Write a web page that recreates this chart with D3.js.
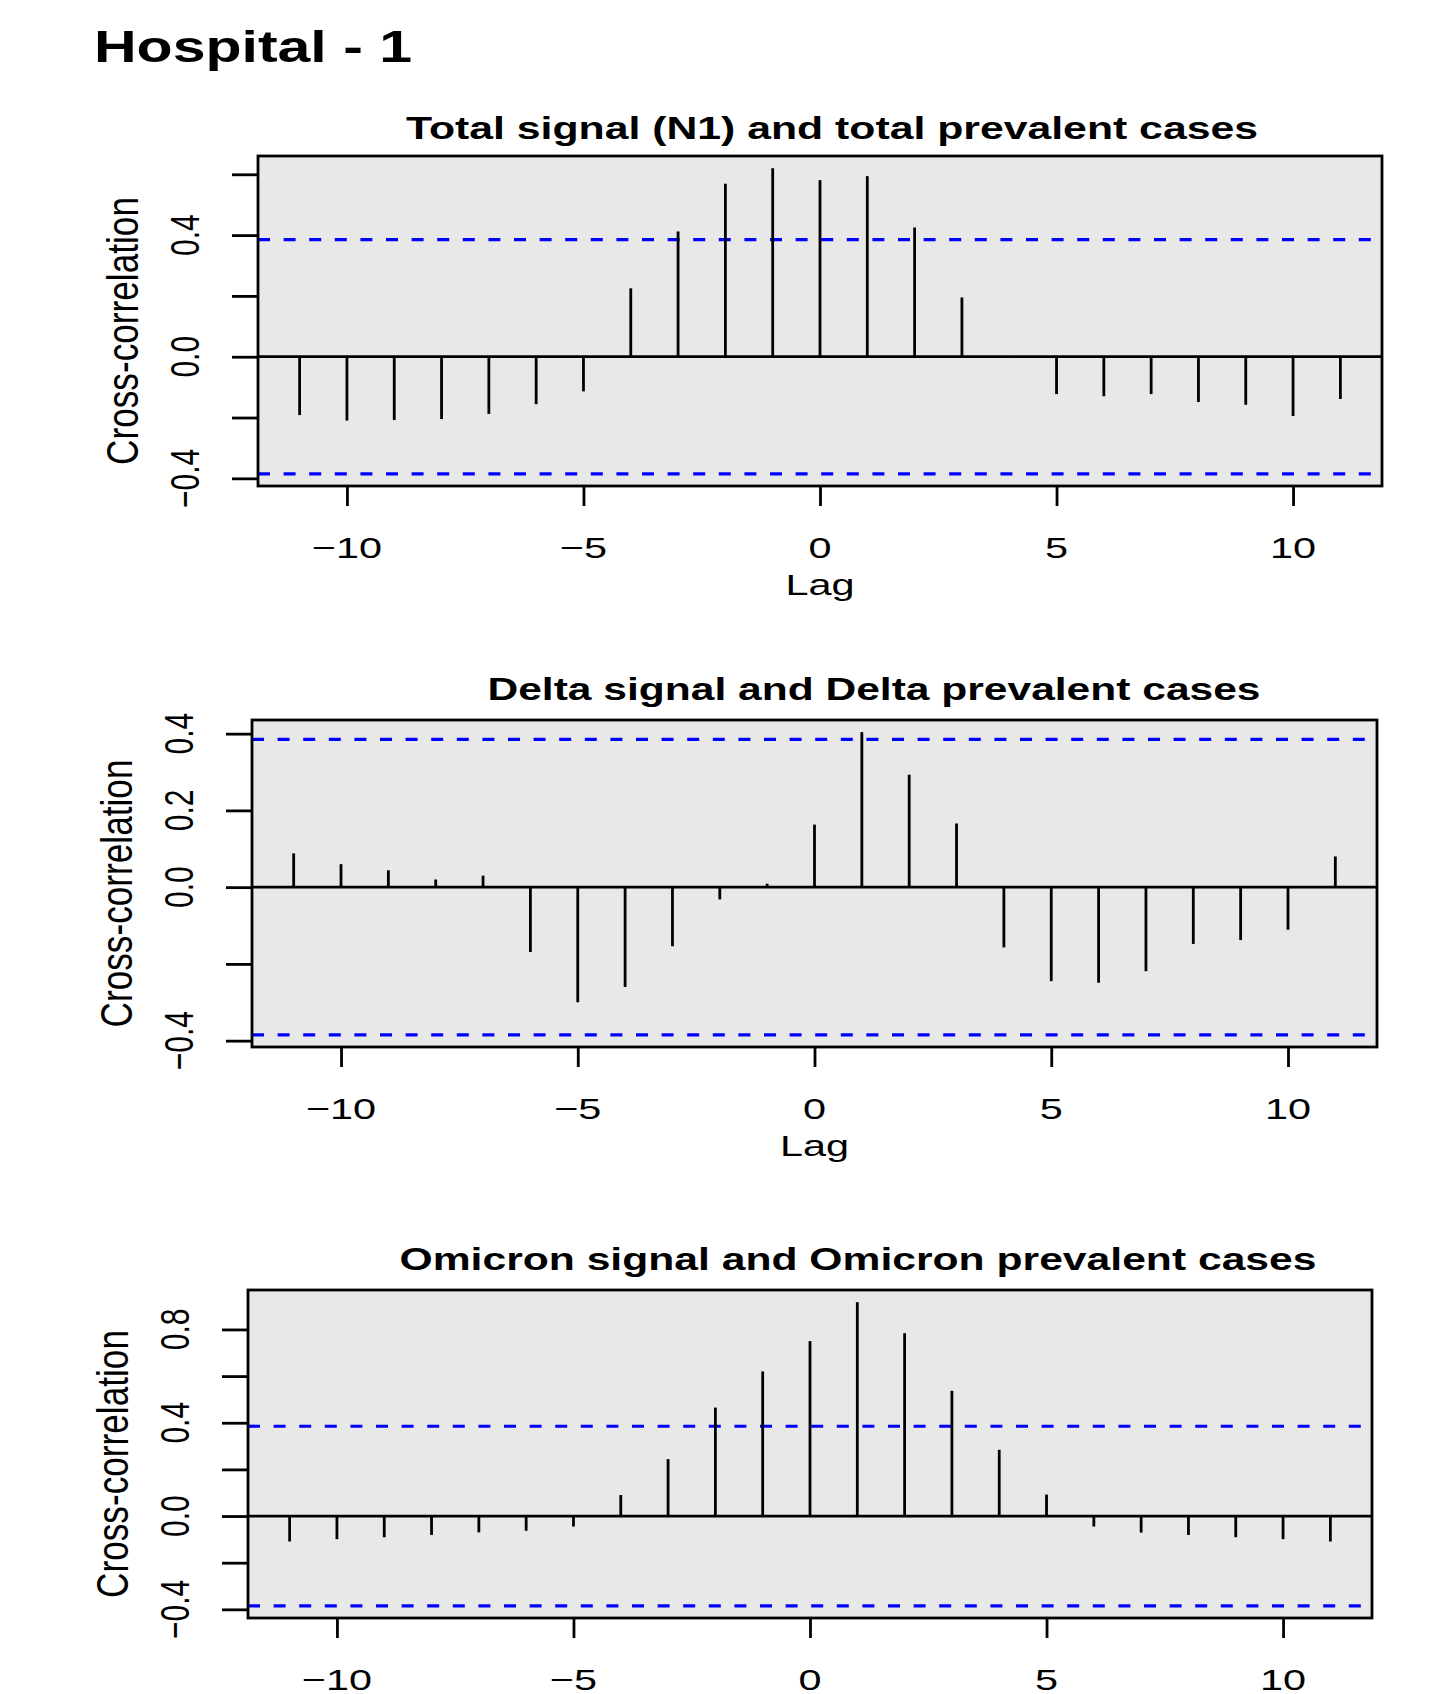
<!DOCTYPE html>
<html>
<head>
<meta charset="utf-8">
<script src="https://cdn.jsdelivr.net/npm/d3@7"></script>
<style>
  html, body { margin: 0; padding: 0; background: #fff; }
  svg { display: block; }
  text { font-family: "Liberation Sans", Arial, Helvetica, sans-serif; fill: #000; }
</style>
</head>
<body>
<svg id="chart"></svg>
<script>
// lags shown on every panel
let lags = [-11, -10, -9, -8, -7, -6, -5, -4, -3, -2, -1, 0, 1, 2, 3, 4, 5, 6, 7, 8, 9, 10, 11];

// cross-correlation values
let totalCcf = [-0.192, -0.210, -0.208, -0.205, -0.188, -0.156, -0.114, 0.225, 0.412, 0.569, 0.620,
    0.581, 0.594, 0.425, 0.195, 0.003, -0.123, -0.130, -0.123, -0.149, -0.158, -0.195, -0.139];
let deltaCcf = [0.088, 0.060, 0.044, 0.020, 0.030, -0.169, -0.300, -0.260, -0.154, -0.032, 0.009,
    0.163, 0.404, 0.293, 0.166, -0.157, -0.245, -0.249, -0.219, -0.148, -0.138, -0.111, 0.080];
let omicronCcf = [-0.109, -0.099, -0.091, -0.081, -0.070, -0.063, -0.045, 0.090, 0.244, 0.465, 0.620,
    0.750, 0.917, 0.784, 0.537, 0.284, 0.092, -0.045, -0.071, -0.081, -0.091, -0.099, -0.109];

// 95% band (2/sqrt(n))
let ciLevel = 0.385;

let mainTitle = "Hospital - 1";
let panelTitles = [
    "Total signal (N1) and total prevalent cases",
    "Delta signal and Delta prevalent cases",
    "Omicron signal and Omicron prevalent cases"
];

let xTicks = [-10, -5, 0, 5, 10];
let xTickLabels = ["\u221210", "\u22125", "0", "5", "10"];

let yTicks1 = [-0.4, -0.2, 0, 0.2, 0.4, 0.6];
let yTickLabels1 = ["\u22120.4", "", "0.0", "", "0.4", ""];
let yTicks2 = [-0.4, -0.2, 0, 0.2, 0.4];
let yTickLabels2 = ["\u22120.4", "", "0.0", "0.2", "0.4"];
let yTicks3 = [-0.4, -0.2, 0, 0.2, 0.4, 0.6, 0.8];
let yTickLabels3 = ["\u22120.4", "", "0.0", "", "0.4", "", "0.8"];

let width = 1443,
    height = 1694;

let sx = 1.38;   // the picture is stretched sideways
let lw = 2.8;

let svg = d3.select("#chart")
    .attr("width", width)
    .attr("height", height);

svg.append("text")
    .attr("x", 94)
    .attr("y", 62)
    .attr("font-size", 45)
    .attr("font-weight", "bold")
    .attr("textLength", 318)
    .attr("lengthAdjust", "spacingAndGlyphs")
    .text(mainTitle);

let panels = [
    {title: panelTitles[0], values: totalCcf, yTicks: yTicks1, yLabels: yTickLabels1,
     left: 258, right: 1382, top: 156, bottom: 486, tx: 832, ty: 139, tw: 852, lag: true},
    {title: panelTitles[1], values: deltaCcf, yTicks: yTicks2, yLabels: yTickLabels2,
     left: 252, right: 1377, top: 720, bottom: 1047, tx: 874, ty: 700, tw: 773, lag: true},
    {title: panelTitles[2], values: omicronCcf, yTicks: yTicks3, yLabels: yTickLabels3,
     left: 248, right: 1372, top: 1290, bottom: 1618, tx: 858, ty: 1270, tw: 917, lag: true}
];

panels.forEach(function (p) {
    // R style axis ranges: data range padded by 4%
    let xlo = d3.min(lags), xhi = d3.max(lags);
    let xpad = (xhi - xlo) * 0.04;
    let x = d3.scaleLinear()
        .domain([xlo - xpad, xhi + xpad])
        .range([p.left, p.right]);

    let ylo = Math.min(d3.min(p.values), -ciLevel),
        yhi = Math.max(d3.max(p.values), ciLevel);
    let ypad = (yhi - ylo) * 0.04;
    let y = d3.scaleLinear()
        .domain([ylo - ypad, yhi + ypad])
        .range([p.bottom, p.top]);

    let g = svg.append("g");

    g.append("rect")
        .attr("x", p.left)
        .attr("y", p.top)
        .attr("width", p.right - p.left)
        .attr("height", p.bottom - p.top)
        .attr("fill", "#e8e8e8");

    // confidence band
    g.selectAll(".ci")
        .data([ciLevel, -ciLevel])
        .enter().append("line")
        .attr("x1", p.left)
        .attr("x2", p.right - 4)
        .attr("y1", d => y(d))
        .attr("y2", d => y(d))
        .attr("stroke", "#0000ff")
        .attr("stroke-width", 3.2)
        .attr("stroke-dasharray", "12,13.6");

    // zero line
    g.append("line")
        .attr("x1", p.left)
        .attr("x2", p.right)
        .attr("y1", y(0))
        .attr("y2", y(0))
        .attr("stroke", "#000")
        .attr("stroke-width", lw);

    // spikes
    g.selectAll(".spike")
        .data(lags)
        .enter().append("line")
        .attr("class", "spike")
        .attr("x1", d => x(d))
        .attr("x2", d => x(d))
        .attr("y1", y(0))
        .attr("y2", (d, i) => y(p.values[i]))
        .attr("stroke", "#000")
        .attr("stroke-width", lw);

    g.append("rect")
        .attr("x", p.left)
        .attr("y", p.top)
        .attr("width", p.right - p.left)
        .attr("height", p.bottom - p.top)
        .attr("fill", "none")
        .attr("stroke", "#000")
        .attr("stroke-width", lw);

    // axes (ticks only, labels drawn below)
    let xAxis = g.append("g")
        .attr("transform", "translate(0," + p.bottom + ")")
        .call(d3.axisBottom(x).tickValues(xTicks).tickSize(20).tickFormat(""));
    let yAxis = g.append("g")
        .attr("transform", "translate(" + p.left + ",0)")
        .call(d3.axisLeft(y).tickValues(p.yTicks).tickSize(26).tickFormat(""));
    [xAxis, yAxis].forEach(function (a) {
        a.select(".domain").remove();
        a.selectAll(".tick line").attr("stroke", "#000").attr("stroke-width", lw);
    });

    g.selectAll(".xlab")
        .data(xTicks)
        .enter().append("text")
        .attr("transform", d => "translate(" + x(d) + "," + (p.bottom + 72) + ") scale(" + sx + ",1)")
        .attr("text-anchor", "middle")
        .attr("font-size", 30)
        .text((d, i) => xTickLabels[i]);

    g.selectAll(".ylab")
        .data(p.yTicks)
        .enter().append("text")
        .attr("transform", d => "translate(" + (p.left - 59) + "," + y(d) + ") scale(" + sx + ",1) rotate(-90)")
        .attr("text-anchor", "middle")
        .attr("font-size", 30)
        .text((d, i) => p.yLabels[i]);

    g.append("text")
        .attr("transform", "translate(" + (p.left - 120) + "," + ((p.top + p.bottom) / 2 + 10) + ") scale(" + sx + ",1) rotate(-90)")
        .attr("text-anchor", "middle")
        .attr("font-size", 31.5)
        .attr("textLength", 268)
        .attr("lengthAdjust", "spacingAndGlyphs")
        .text("Cross-correlation");

    if (p.lag) {
        g.append("text")
            .attr("transform", "translate(" + ((p.left + p.right) / 2) + "," + (p.bottom + 109) + ") scale(" + sx + ",1)")
            .attr("text-anchor", "middle")
            .attr("font-size", 30)
            .text("Lag");
    }

    g.append("text")
        .attr("x", p.tx)
        .attr("y", p.ty)
        .attr("text-anchor", "middle")
        .attr("font-size", 31)
        .attr("font-weight", "bold")
        .attr("textLength", p.tw)
        .attr("lengthAdjust", "spacingAndGlyphs")
        .text(p.title);
});
</script>
</body>
</html>
